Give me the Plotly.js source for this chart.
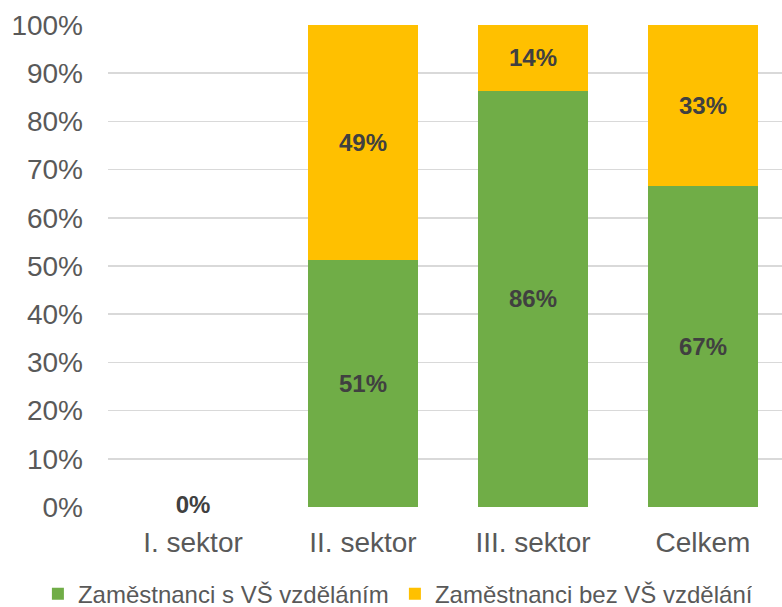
<!DOCTYPE html>
<html>
<head>
<meta charset="utf-8">
<script src="https://cdn.plot.ly/plotly-3.0.1.min.js"></script>
<style>html,body{margin:0;padding:0;background:#fff;}#chart{width:782px;height:607px;}</style>
</head>
<body>
<div id="chart"></div>
<script>
const categories = ['I. sektor', 'II. sektor', 'III. sektor', 'Celkem'];
const seriesNames = ['Zaměstnanci s VŠ vzděláním', 'Zaměstnanci bez VŠ vzdělání'];
const withDegree = [0, 0.513, 0.864, 0.666];
const withoutDegree = [0, 0.487, 0.136, 0.334];
const yTickVals = [0, 0.1, 0.2, 0.3, 0.4, 0.5, 0.6, 0.7, 0.8, 0.9, 1.0];
const yTickText = ['0%', '10%', '20%', '30%', '40%', '50%', '60%', '70%', '80%', '90%', '100%'];
const zeroLabelCats = ['I. sektor'];
const zeroLabelVals = [0];

const pct = v => Math.round(v * 100) + '%';
const labelFont = {family: 'Liberation Sans, Arial, sans-serif', size: 24, color: '#404040', weight: 'bold'};

const traces = [
  {
    type: 'bar', name: seriesNames[0], x: categories, y: withDegree,
    marker: {color: '#70AD47'},
    text: withDegree.map(v => v > 0 ? pct(v) : ''),
    textposition: 'inside', insidetextanchor: 'middle',
    textfont: labelFont, hoverinfo: 'skip'
  },
  {
    type: 'bar', name: seriesNames[1], x: categories, y: withoutDegree,
    marker: {color: '#FFC000'},
    text: withoutDegree.map(v => v > 0 ? pct(v) : ''),
    textposition: 'inside', insidetextanchor: 'middle',
    textfont: labelFont, hoverinfo: 'skip'
  },
  {
    type: 'scatter', mode: 'text', x: zeroLabelCats, y: zeroLabelVals,
    text: zeroLabelVals.map(pct), textposition: 'middle center',
    textfont: labelFont, showlegend: false, hoverinfo: 'skip', cliponaxis: false
  }
];

const layout = {
  width: 782, height: 607,
  margin: {l: 108, r: 0, t: 25, b: 100, autoexpand: false},
  paper_bgcolor: '#ffffff', plot_bgcolor: '#ffffff',
  barmode: 'stack', bargap: 0.353,
  font: {family: 'Liberation Sans, Arial, sans-serif', color: '#595959'},
  xaxis: {
    type: 'category', range: [-0.5, 3.465],
    showgrid: false, showline: false, zeroline: false, ticks: '',
    tickfont: {size: 28, color: '#595959'}, ticklabelstandoff: 16, fixedrange: true
  },
  yaxis: {
    range: [0, 1], tickvals: yTickVals, ticktext: yTickText,
    showgrid: true, gridcolor: '#D9D9D9', gridwidth: 1.5,
    zeroline: false, showline: false, ticks: '',
    tickfont: {size: 28, color: '#595959'}, ticklabelstandoff: 24, fixedrange: true
  },
  showlegend: true,
  legend: {
    orientation: 'h', xref: 'paper', yref: 'paper',
    x: -0.104, xanchor: 'left', y: -0.181, yanchor: 'middle',
    font: {size: 24, color: '#595959'}, itemwidth: 30, traceorder: 'normal',
    entrywidth: 312, entrywidthmode: 'pixels'
  }
};

Plotly.newPlot('chart', traces, layout, {displayModeBar: false, staticPlot: true});
</script>
</body>
</html>
